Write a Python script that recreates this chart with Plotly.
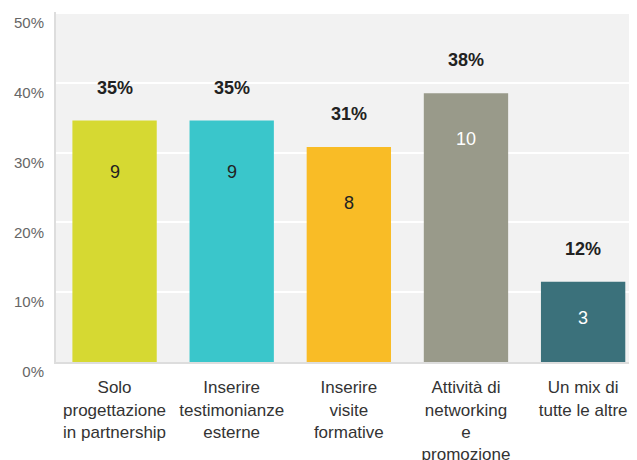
import plotly.graph_objects as go

categories = [
    "Solo<br>progettazione<br>in partnership",
    "Inserire<br>testimonianze<br>esterne",
    "Inserire<br>visite<br>formative",
    "Attività di<br>networking<br>e<br>promozione",
    "Un mix di<br>tutte le altre",
]
counts = [9, 9, 8, 10, 3]
percents = [34.6, 34.6, 30.8, 38.5, 11.5]
pct_labels = ["35%", "35%", "31%", "38%", "12%"]
y_tickvals = [0, 10, 20, 30, 40, 50]
y_ticktext = ["0%", "10%", "20%", "30%", "40%", "50%"]

colors = ["#d6d932", "#3ac6cb", "#f9bc26", "#999a8a", "#3b717b"]
count_colors = ["#222222", "#222222", "#222222", "#ffffff", "#ffffff"]
count_shift = [-51, -51, -56, -46, -36]

FONT = "Liberation Sans, Arial, sans-serif"

fig = go.Figure()
fig.add_trace(go.Bar(
    x=list(range(len(categories))),
    y=percents,
    marker=dict(color=colors, line=dict(width=0)),
    hoverinfo="skip",
))

annotations = []
for i, (p, lab, c) in enumerate(zip(percents, pct_labels, counts)):
    annotations.append(dict(
        x=i, y=p, xref="x", yref="y", text=f"<b>{lab}</b>", showarrow=False,
        yshift=33, font=dict(family=FONT, size=18, color="#222222"),
    ))
    annotations.append(dict(
        x=i, y=p, xref="x", yref="y", text=str(c), showarrow=False,
        yshift=count_shift[i], font=dict(family=FONT, size=18, color=count_colors[i]),
    ))

# page body has an 8px default margin, so the figure is sized to fill the rest
fig.update_layout(
    width=629, height=452,
    margin=dict(l=48, r=0, t=4, b=98, autoexpand=False),
    paper_bgcolor="#ffffff",
    plot_bgcolor="#f2f2f2",
    bargap=0.28,
    showlegend=False,
    annotations=annotations,
    font=dict(family=FONT),
    xaxis=dict(
        range=[-0.5, 4.46],
        tickvals=list(range(len(categories))),
        ticktext=categories,
        tickangle=0,
        tickfont=dict(family=FONT, size=17, color="#333333"),
        showgrid=False,
        zeroline=False,
        showline=True, linecolor="#dddddd", linewidth=2,
        ticks="outside", ticklen=9, tickcolor="rgba(0,0,0,0)",
        automargin=False,
    ),
    yaxis=dict(
        range=[0, 50.15],
        tickvals=y_tickvals,
        ticktext=y_ticktext,
        tickfont=dict(family=FONT, size=15, color="#666666"),
        showgrid=True, gridcolor="#ffffff", gridwidth=2,
        zeroline=False,
        showline=True, linecolor="#dddddd", linewidth=2,
        ticklabelshift=10,
        ticks="outside", ticklen=7, tickcolor="rgba(0,0,0,0)",
        automargin=False,
    ),
)

fig.write_html("out.html")
